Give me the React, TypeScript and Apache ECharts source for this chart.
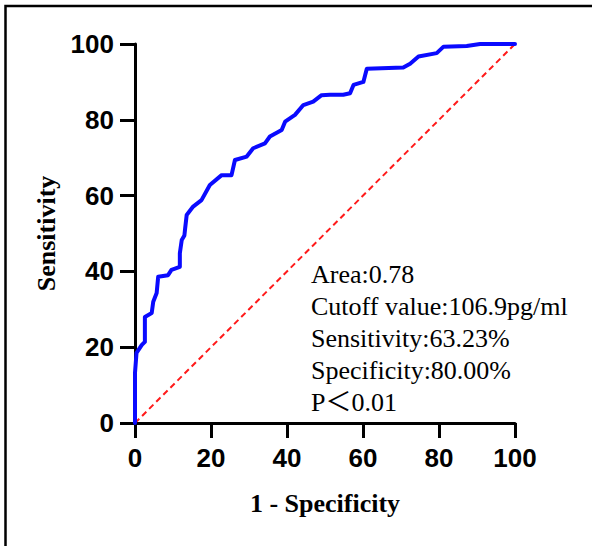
import React, { useEffect, useRef } from "react";
import * as echarts from "echarts";

// ROC curve points (1 - specificity, sensitivity), in %
const fpr = [
  0, 0, 0.4, 1.8, 2.6, 2.6, 4.4, 4.8, 5.7, 6.1,
  8.7, 9.6, 11.8, 11.8, 12.3, 13.0, 13.2, 13.6, 15.3, 17.5,
  19.7, 22.8, 25.4, 26.3, 29.4, 31.1, 34.2, 35.5, 38.6, 39.5,
  42.1, 44.3, 46.9, 49.1, 51.3, 54.8, 56.6, 57.5, 60.1, 61.0,
  70.6, 72.4, 74.6, 79.4, 81.2, 87.3, 90.8, 100,
];
const sens = [
  0, 13.2, 18.5, 20.6, 21.4, 28, 29, 32, 34.3, 38.6,
  39, 40.4, 41.2, 44.8, 48.3, 49.5, 51.4, 54.9, 57.1, 58.8,
  62.8, 65.4, 65.4, 69.4, 70.3, 72.5, 73.8, 75.6, 77.3, 79.5,
  81.3, 83.9, 84.8, 86.5, 86.6, 86.6, 87.0, 89.2, 90.0, 93.5,
  93.8, 94.8, 96.7, 97.6, 99.3, 99.5, 100, 100,
];
const refX = [0, 100];
const refY = [0, 100];
const tickValues = [0, 20, 40, 60, 80, 100];
const xTitle = "1 - Specificity";
const yTitle = "Sensitivity";
const annotationLines = [
  "Area:0.78",
  "Cutoff value:106.9pg/ml",
  "Sensitivity:63.23%",
  "Specificity:80.00%",
  "P＜0.01",
];

export default function App() {
  const ref = useRef<HTMLDivElement>(null);
  useEffect(() => {
    if (!ref.current) return;
    const chart = echarts.init(ref.current, null, { renderer: "svg" });
    const axisCommon = {
      type: "value" as const,
      min: tickValues[0],
      max: tickValues[tickValues.length - 1],
      interval: tickValues[1] - tickValues[0],
      splitLine: { show: false },
      axisLine: { show: true, onZero: false, lineStyle: { color: "#000", width: 3 } },
      axisTick: { show: true, inside: false, length: 15, lineStyle: { color: "#000", width: 3 } },
      nameLocation: "middle" as const,
      nameTextStyle: {
        fontFamily: "Liberation Serif",
        fontWeight: "bold" as const,
        fontSize: 26,
        color: "#000",
      },
    };
    const labelStyle = {
      fontFamily: "Liberation Sans",
      fontWeight: "bold" as const,
      fontSize: 26,
      color: "#000",
    };
    chart.setOption({
      animation: false,
      backgroundColor: "#fff",
      grid: { left: 135, top: 44, width: 380, height: 379, containLabel: false },
      xAxis: {
        ...axisCommon,
        name: xTitle,
        nameGap: 67,
        axisLabel: { ...labelStyle, margin: 22 },
      },
      yAxis: {
        ...axisCommon,
        name: yTitle,
        nameGap: 73,
        nameRotate: 90,
        axisLabel: { ...labelStyle, margin: 21 },
      },
      series: [
        {
          type: "line",
          data: refX.map((x, i) => [x, refY[i]]),
          showSymbol: false,
          lineStyle: { color: "#ff1a1a", width: 2, type: [6, 4] },
          z: 2,
        },
        {
          type: "line",
          data: fpr.map((x, i) => [x, sens[i]]),
          showSymbol: false,
          lineStyle: { color: "#0a0aff", width: 4, join: "round", cap: "round" },
          z: 3,
        },
      ],
      graphic: [
        {
          type: "rect",
          shape: { x: 5.5, y: 6, width: 640, height: 640 },
          style: { fill: "none", stroke: "#000", lineWidth: 2.5 },
          silent: true,
        },
        ...annotationLines.map((t, i) => ({
          type: "text",
          x: 311,
          y: 274 + i * 32,
          style: {
            text: t,
            fontFamily: "Liberation Serif, Noto Sans CJK SC",
            fontSize: 26,
            fill: "#000",
            align: "left",
            verticalAlign: "middle",
          },
        })),
      ],
    });
    return () => chart.dispose();
  }, []);
  return (
    <div
      ref={ref}
      style={{ position: "fixed", left: 0, top: 0, width: 592, height: 546, background: "#fff" }}
    />
  );
}
